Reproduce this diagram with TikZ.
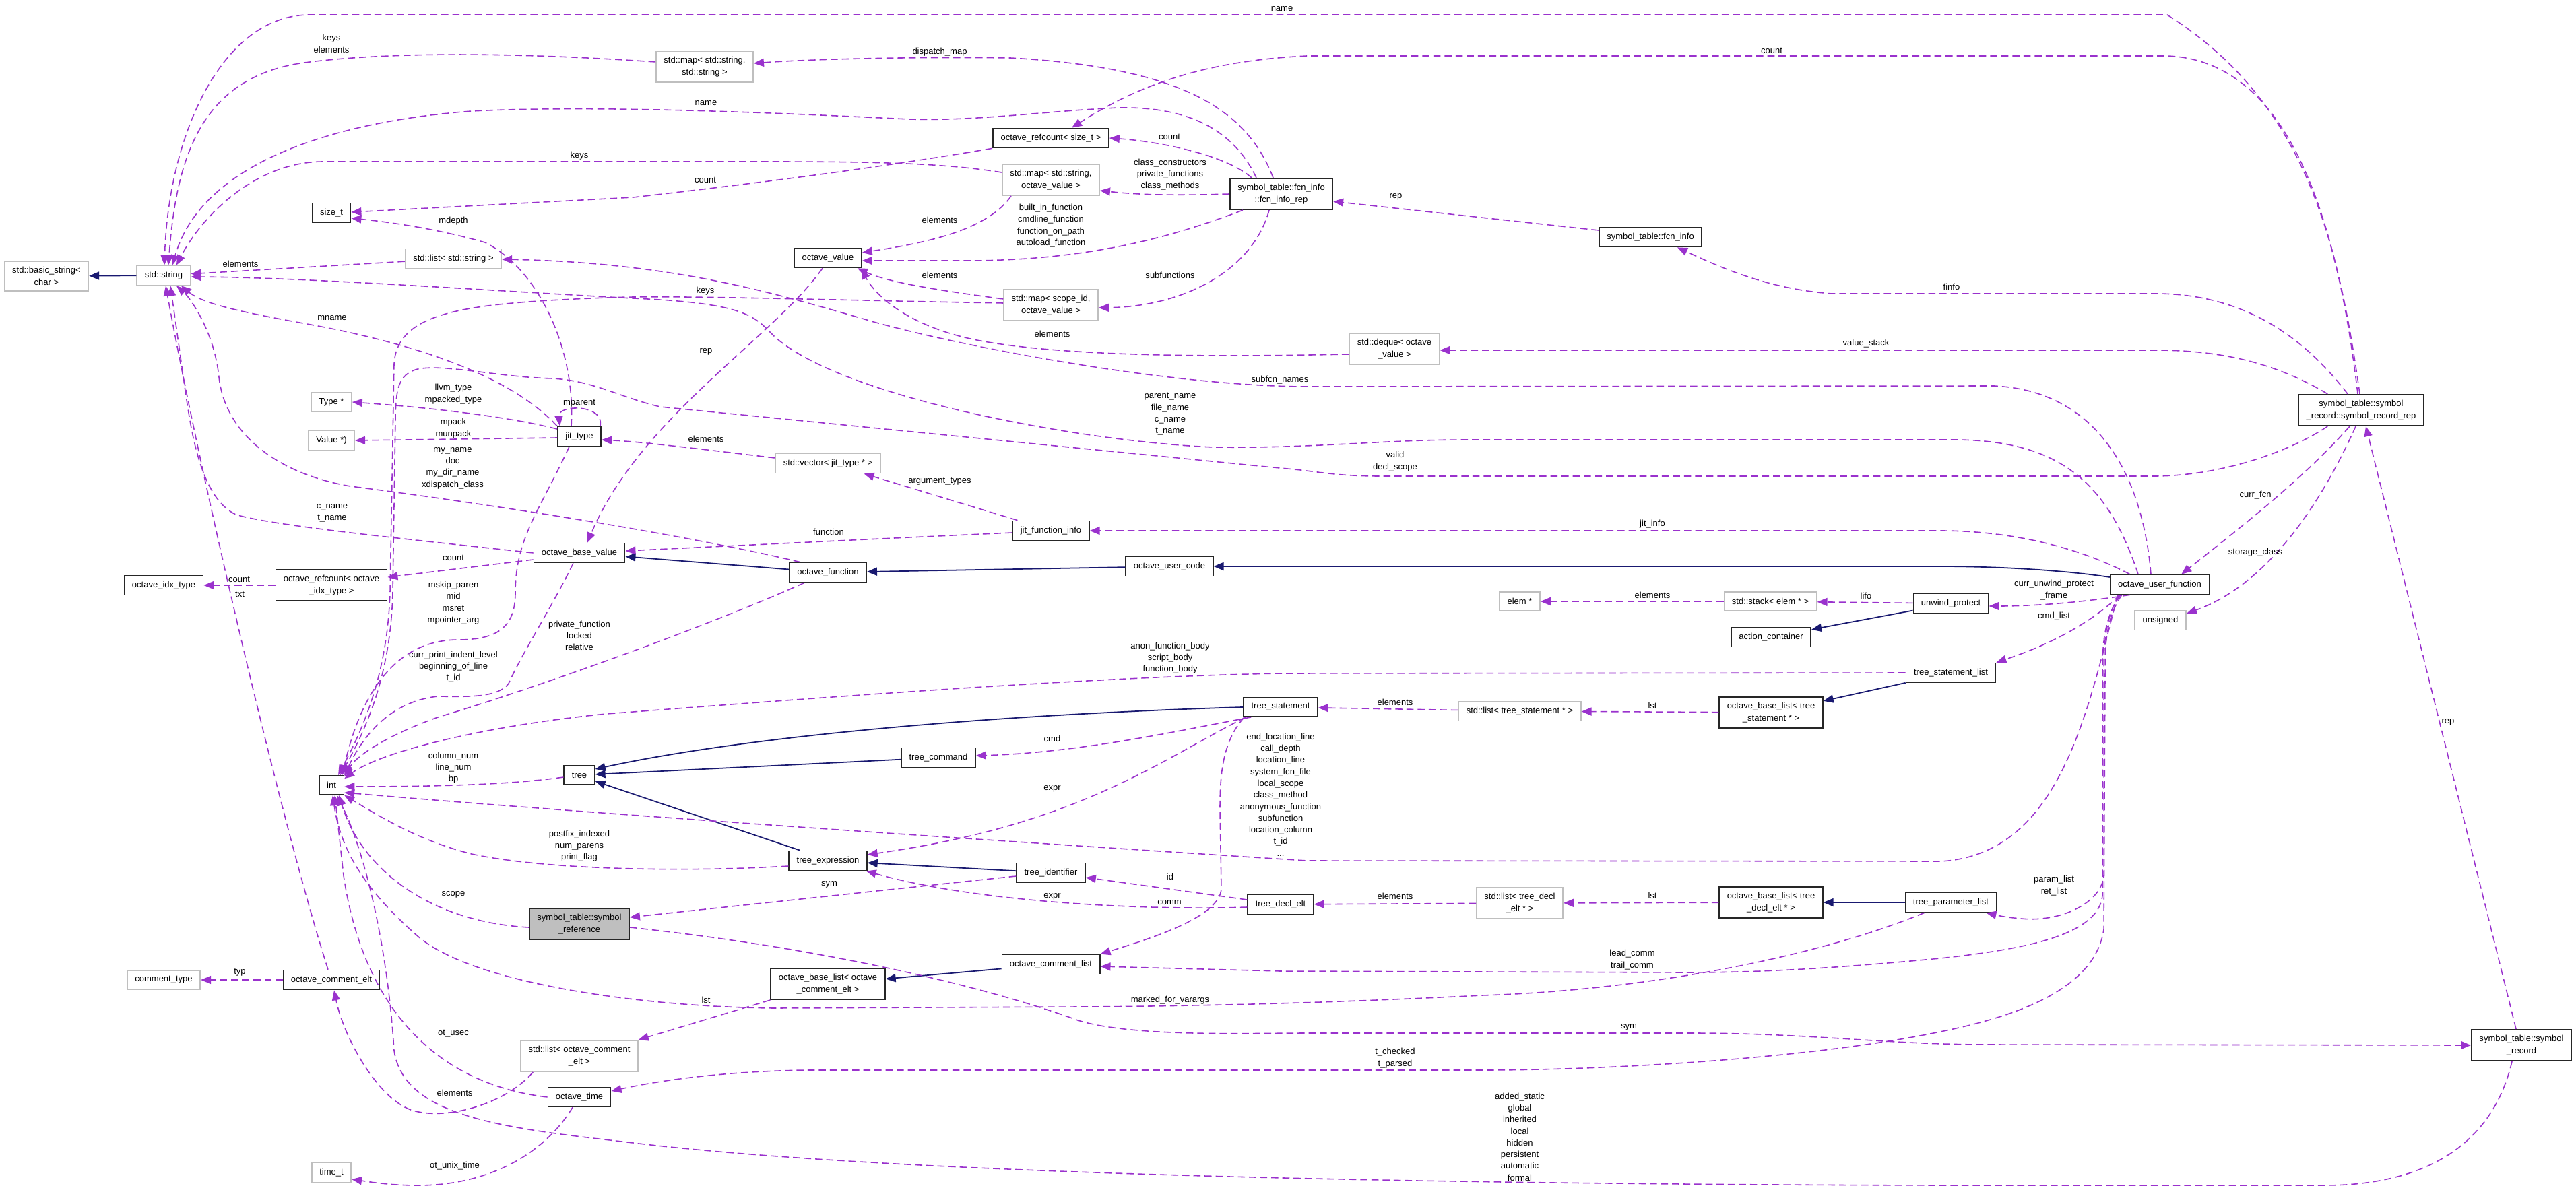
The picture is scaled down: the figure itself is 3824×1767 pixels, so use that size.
\documentclass[tikz,border=0pt]{standalone}
\usepackage{fontspec}
\setmainfont{Liberation Sans}
\usetikzlibrary{arrows.meta,calc}
\definecolor{edgepurple}{HTML}{9A32CD}
\definecolor{derivenavy}{HTML}{191970}
\definecolor{extgray}{HTML}{BFBFBF}
\begin{document}
\begin{tikzpicture}[x=0.01cm,y=-0.01cm,
  every node/.style={font=\fontsize{3.7}{4.92}\selectfont},
  cls/.style={draw=black!85,line width=0.5pt,fill=white,align=center,inner xsep=0.115cm,inner ysep=2.4pt,minimum height=0.28cm},
  ext/.style={cls,draw=extgray},
  hilite/.style={cls,fill=extgray},
  usage/.style={draw=edgepurple,line width=0.45pt,dash pattern=on 3pt off 1.7pt,-{Triangle[length=0.15cm,width=0.12cm]}},
  derive/.style={draw=derivenavy,line width=0.5pt,-{Triangle[length=0.15cm,width=0.12cm]}},
  lbl/.style={inner sep=0pt,align=center}]
  \useasboundingbox (0,0) rectangle (3824,1767);

  \node[ext] (bstr) at (69,410) {std::basic\_string<\\char >};
  \node[ext] (str) at (243,409) {std::string};
  \node[cls] (sizet) at (492,316) {size\_t};
  \node[ext] (lststr) at (673,384) {std::list< std::string >};
  \node[ext] (mapss) at (1046,99) {std::map< std::string,\\std::string >};
  \node[cls] (rcsz) at (1560,205) {octave\_refcount< size\_t >};
  \node[ext] (mapsov) at (1560,267) {std::map< std::string,\\octave\_value >};
  \node[cls] (ov) at (1229,383) {octave\_value};
  \node[ext] (mapsid) at (1560,453) {std::map< scope\_id,\\octave\_value >};
  \node[cls] (fcnrep) at (1902,288) {symbol\_table::fcn\_info\\::fcn\_info\_rep};
  \node[cls] (fcninfo) at (2450,352) {symbol\_table::fcn\_info};
  \node[ext] (deque) at (2070,518) {std::deque< octave\\\_value >};
  \node[cls] (recrep) at (3505,609) {symbol\_table::symbol\\\_record::symbol\_record\_rep};
  \node[ext] (type) at (492,597) {Type *};
  \node[ext] (value) at (492,654) {Value *)};
  \node[cls] (jit) at (860,648) {jit\_type};
  \node[ext] (vec) at (1229,688) {std::vector< jit\_type * >};
  \node[cls] (jfi) at (1560,788) {jit\_function\_info};
  \node[cls] (obv) at (860,821) {octave\_base\_value};
  \node[cls] (idx) at (243,869) {octave\_idx\_type};
  \node[cls] (rcidx) at (492,869) {octave\_refcount< octave\\\_idx\_type >};
  \node[cls] (ofn) at (1229,850) {octave\_function};
  \node[cls] (ouc) at (1736,841) {octave\_user\_code};
  \node[cls] (ouf) at (3206,868) {octave\_user\_function};
  \node[ext] (uns) at (3207,921) {unsigned};
  \node[ext] (elem) at (2256,893) {elem *};
  \node[ext] (stack) at (2628,893) {std::stack< elem * >};
  \node[cls] (unw) at (2896,896) {unwind\_protect};
  \node[cls] (act) at (2629,946) {action\_container};
  \node[cls] (tsl) at (2896,999) {tree\_statement\_list};
  \node[cls] (oblts) at (2629,1058) {octave\_base\_list< tree\\\_statement * >};
  \node[ext] (lsts) at (2256,1056) {std::list< tree\_statement * >};
  \node[cls] (ts) at (1901,1050) {tree\_statement};
  \node[cls] (tree) at (860,1151) {tree};
  \node[cls] (int) at (492,1166) {int};
  \node[cls] (tcmd) at (1393,1125) {tree\_command};
  \node[cls] (texpr) at (1229,1278) {tree\_expression};
  \node[cls] (tid) at (1560,1296) {tree\_identifier};
  \node[cls] (tde) at (1901,1343) {tree\_decl\_elt};
  \node[ext] (lsttde) at (2256,1341) {std::list< tree\_decl\\\_elt * >};
  \node[cls] (obltde) at (2629,1340) {octave\_base\_list< tree\\\_decl\_elt * >};
  \node[cls] (tpl) at (2896,1340) {tree\_parameter\_list};
  \node[hilite] (ref) at (860,1372) {symbol\_table::symbol\\\_reference};
  \node[ext] (ctype) at (243,1455) {comment\_type};
  \node[cls] (oce) at (492,1455) {octave\_comment\_elt};
  \node[cls] (ocl) at (1560,1432) {octave\_comment\_list};
  \node[cls] (oblce) at (1229,1461) {octave\_base\_list< octave\\\_comment\_elt >};
  \node[ext] (lstce) at (860,1568) {std::list< octave\_comment\\\_elt >};
  \node[cls] (otime) at (860,1629) {octave\_time};
  \node[ext] (timet) at (492,1741) {time\_t};
  \node[cls] (rec) at (3743,1552) {symbol\_table::symbol\\\_record};

  \draw[derive] (str) -- (bstr);
  \draw[derive] (ofn) -- (obv);
  \draw[derive] (ouc) -- (ofn);
  \draw[derive] ($(ouf.west)+(0,-11)$) .. controls (3060,846) and (2960,841) .. (2880,841) -- (ouc.east);
  \draw[derive] (unw) -- (act);
  \draw[derive] (tsl) -- (oblts);
  \draw[derive] (ts.west) .. controls (1450,1062) and (1100,1095) .. ($(tree.east)+(0,-9)$);
  \draw[derive] (tcmd) -- (tree);
  \draw[derive] ($(texpr.north west)+(17,0)$) -- ($(tree.east)+(0,9)$);
  \draw[derive] (tid) -- (texpr);
  \draw[derive] (ocl) -- (oblce);
  \draw[derive] (tpl) -- (obltde);

  \draw[usage] ($(recrep.north)+(-2,0)$) .. controls (3470,350) and (3420,150) .. (3217,22) -- (460,22) .. controls (330,22) and (250,200) .. ($(str.north)+(1,0)$) node[lbl] at (1903,13) {name};
  \draw[usage] ($(mapss.west)+(0,-7)$) .. controls (800,80) and (600,75) .. (460,92) .. controls (300,110) and (262,230) .. ($(str.north)+(7,0)$) node[lbl] at (492,65) {keys\\elements};
  \draw[usage] ($(fcnrep.north)+(-12,0)$) .. controls (1850,160) and (1750,100) .. (1500,86) .. controls (1350,84) and (1200,88) .. ($(mapss.east)+(0,-5)$) node[lbl] at (1395,77) {dispatch\_map};
  \draw[usage] ($(fcnrep.north)+(-37,0)$) .. controls (1830,190) and (1760,158) .. (1660,160) .. controls (1550,165) and (1450,180) .. (1350,177) .. controls (1200,170) and (900,155) .. (700,165) .. controls (500,180) and (300,240) .. ($(str.north)+(13,0)$) node[lbl] at (1048,153) {name};
  \draw[usage] ($(mapsov.west)+(0,-11)$) .. controls (1400,242) and (1300,240) .. (1131,240) -- (480,240) .. controls (380,240) and (300,320) .. ($(str.north)+(19,0)$) node[lbl] at (860,231) {keys};
  \draw[usage] (rcsz.south west) .. controls (1300,250) and (1100,275) .. (940,293) -- ($(sizet.east)+(0,-1)$) node[lbl] at (1047,267) {count};
  \draw[usage] ($(jit.north)+(-12,0)$) .. controls (855,520) and (800,400) .. (720,360) .. controls (650,340) and (580,330) .. ($(sizet.east)+(0,8)$) node[lbl] at (673,328) {mdepth};
  \draw[usage] (lststr) -- (str) node[lbl] at (357,392) {elements};
  \draw[usage] ($(ouf.north)+(-13,0)$) .. controls (3180,700) and (3110,580) .. (2960,573) -- (1940,574) .. controls (1750,574) and (1450,520) .. (1297,478) .. controls (1150,435) and (1000,390) .. ($(lststr.east)+(0,1)$) node[lbl] at (1900,564) {subfcn\_names};
  \draw[usage] ($(ouf.north)+(-32,0)$) .. controls (3130,720) and (3060,653) .. (2900,653) -- (2175,653) .. controls (2050,653) and (1950,666) .. (1800,664) .. controls (1600,655) and (1250,590) .. (1150,500) .. controls (1120,470) and (1110,450) .. (940,443) .. controls (700,430) and (450,412) .. ($(str.east)+(0,2)$) node[lbl] at (1737,615) {parent\_name\\file\_name\\c\_name\\t\_name};
  \draw[usage] ($(mapsid.west)+(0,-3)$) .. controls (1200,445) and (1000,438) .. (900,442) .. controls (700,450) and (590,460) .. (585,540) -- (579,880) .. controls (575,1000) and (540,1080) .. ($(int.north)+(10,0)$) node[lbl] at (1047,432) {keys};
  \draw[usage] ($(recrep.south west)+(44,0)$) .. controls (3400,670) and (3300,706) .. (3200,707) -- (2050,707) .. controls (1980,707) and (1960,700) .. (1900,695) -- (980,604) .. controls (920,590) and (880,565) .. (820,562) .. controls (740,560) and (660,540) .. (620,548) .. controls (590,556) and (588,580) .. (587,620) -- (583,880) .. controls (580,1000) and (545,1080) .. ($(int.north)+(13,0)$) node[lbl] at (2071,685) {valid\\decl\_scope};
  \draw[usage] (jit.north west) .. controls (760,560) and (620,510) .. (450,480) .. controls (350,462) and (300,450) .. ($(str.south)+(26,0)$) node[lbl] at (493,472) {mname};
  \draw[usage] ($(ofn.north west)+(17,0)$) .. controls (1000,790) and (700,745) .. (520,722) .. controls (420,705) and (335,650) .. (325,560) .. controls (318,490) and (280,440) .. ($(str.south)+(19,0)$) node[lbl] at (672,695) {my\_name\\doc\\my\_dir\_name\\xdispatch\_class};
  \draw[usage] (obv.west) .. controls (600,800) and (400,780) .. (350,764) .. controls (300,740) and (285,650) .. (275,580) -- ($(str.south)+(10,0)$) node[lbl] at (493,762) {c\_name\\t\_name};
  \draw[usage] ($(oce.north)+(-5,0)$) .. controls (420,1230) and (300,720) .. ($(str.south)+(3,0)$) node[lbl] at (356,882) {txt};
  \draw[usage] (rcidx) -- (idx) node[lbl] at (355,860) {count};
  \draw[usage] ($(obv.west)+(0,10)$) -- ($(rcidx.east)+(0,-12)$) node[lbl] at (673,828) {count};
  \draw[usage] ($(ov.south)+(-8,0)$) .. controls (1150,500) and (950,620) .. ($(obv.north)+(12,0)$) node[lbl] at (1048,522) {rep};
  \draw[usage] ($(deque.west)+(0,8)$) .. controls (1800,530) and (1580,530) .. (1450,505) .. controls (1350,485) and (1300,440) .. ($(ov.south east)+(-1,1)$) node[lbl] at (1562,496) {elements};
  \draw[usage] ($(recrep.north)+(-5,0)$) .. controls (3470,330) and (3400,90) .. (3217,83) -- (1940,83) .. controls (1800,90) and (1700,120) .. ($(rcsz.north)+(31,0)$) node[lbl] at (2630,75) {count};
  \draw[usage] ($(fcnrep.north)+(-44,0)$) .. controls (1820,230) and (1720,210) .. (rcsz.east) node[lbl] at (1736,203) {count};
  \draw[usage] (fcnrep.west) .. controls (1720,291) and (1680,288) .. ($(mapsov.east)+(0,16)$) node[lbl] at (1737,259) {class\_constructors\\private\_functions\\class\_methods};
  \draw[usage] ($(mapsov.south west)+(14,0)$) .. controls (1470,335) and (1400,357) .. ($(ov.east)+(0,-8)$) node[lbl] at (1395,327) {elements};
  \draw[usage] ($(fcnrep.south west)+(20,0)$) .. controls (1720,360) and (1600,385) .. (1450,387) -- ($(ov.east)+(0,4)$) node[lbl] at (1560,335) {built\_in\_function\\cmdline\_function\\function\_on\_path\\autoload\_function};
  \draw[usage] ($(mapsid.west)+(0,-9)$) .. controls (1400,432) and (1320,420) .. ($(ov.south east)+(-7,0)$) node[lbl] at (1395,409) {elements};
  \draw[usage] ($(fcnrep.south)+(-18,0)$) .. controls (1860,400) and (1760,455) .. ($(mapsid.east)+(0,4)$) node[lbl] at (1737,409) {subfunctions};
  \draw[usage] ($(fcninfo.west)+(0,-10)$) -- ($(fcnrep.east)+(0,11)$) node[lbl] at (2072,292) {rep};
  \draw[usage] ($(recrep.north)+(-20,0)$) .. controls (3420,500) and (3330,436) .. (3200,436) -- (2720,436) .. controls (2630,430) and (2560,400) .. ($(fcninfo.south)+(40,0)$) node[lbl] at (2897,426) {finfo};
  \draw[usage] ($(recrep.north west)+(44,0)$) .. controls (3380,540) and (3300,520) .. (3200,520) -- ($(deque.east)+(0,2)$) node[lbl] at (2770,510) {value\_stack};
  \draw[usage] ($(ouf.north west)+(30,0)$) .. controls (3080,810) and (2980,788) .. (2880,788) -- (jfi.east) node[lbl] at (2453,778) {jit\_info};
  \draw[usage] ($(jfi.north west)+(8,0)$) -- ($(vec.south east)+(-25,0)$) node[lbl] at (1395,715) {argument\_types};
  \draw[usage] ($(jfi.west)+(0,3)$) .. controls (1300,800) and (1100,810) .. ($(obv.east)+(0,-3)$) node[lbl] at (1230,790) {function};
  \draw[usage] ($(vec.west)+(0,-8)$) .. controls (1000,662) and (950,656) .. ($(jit.east)+(0,5)$) node[lbl] at (1048,652) {elements};
  \draw[usage] ($(jit.west)+(0,-11)$) .. controls (760,620) and (650,606) .. (type.east) node[lbl] at (673,585) {llvm\_type\\mpacked\_type};
  \draw[usage] ($(jit.west)+(0,2)$) -- (value.east) node[lbl] at (673,636) {mpack\\munpack};
  \draw[usage] ($(jit.north east)+(-2,0)$) .. controls (898,600) and (828,600) .. ($(jit.north west)+(4,0)$) node[lbl] at (860,599) {mparent};
  \draw[usage] ($(jit.south)+(-15,0)$) .. controls (800,760) and (765,800) .. (765,880) .. controls (765,930) and (740,950) .. (680,950) .. controls (600,950) and (540,1010) .. ($(int.north)+(16,0)$) node[lbl] at (673,895) {mskip\_paren\\mid\\msret\\mpointer\_arg};
  \draw[usage] ($(obv.south)+(-9,0)$) .. controls (820,900) and (775,970) .. (755,1015) .. controls (740,1035) and (700,1035) .. (650,1034) .. controls (590,1040) and (545,1080) .. (int.north east) node[lbl] at (673,990) {curr\_print\_indent\_level\\beginning\_of\_line\\t\_id};
  \draw[usage] ($(ofn.south west)+(23,0)$) .. controls (1050,930) and (800,1020) .. (650,1065) .. controls (580,1090) and (530,1120) .. ($(int.north east)+(0,2)$) node[lbl] at (860,944) {private\_function\\locked\\relative};
  \draw[usage] ($(tree.west)+(0,3)$) .. controls (760,1165) and (650,1168) .. ($(int.east)+(0,2)$) node[lbl] at (673,1140) {column\_num\\line\_num\\bp};
  \draw[usage] (tsl.west) -- (1900,1000) .. controls (1600,1005) and (1100,1045) .. (900,1060) .. controls (700,1080) and (560,1120) .. ($(int.north east)+(0,5)$) node[lbl] at (1737,977) {anon\_function\_body\\script\_body\\function\_body};
  \draw[usage] ($(ouf.south west)+(12,0)$) .. controls (3100,1050) and (3060,1270) .. (2880,1279) -- (1940,1278) .. controls (1500,1250) and (900,1210) .. ($(int.south east)+(0,-4)$) node[lbl] at (1901,1180) {end\_location\_line\\call\_depth\\location\_line\\system\_fcn\_file\\local\_scope\\class\_method\\anonymous\_function\\subfunction\\location\_column\\t\_id\\...};
  \draw[usage] ($(texpr.west)+(0,8)$) .. controls (1000,1296) and (800,1290) .. (700,1268) .. controls (620,1248) and (560,1210) .. (int.south east) node[lbl] at (860,1256) {postfix\_indexed\\num\_parens\\print\_flag};
  \draw[usage] ($(ref.west)+(0,5)$) .. controls (650,1370) and (540,1300) .. ($(int.south)+(11,0)$) node[lbl] at (673,1328) {scope};
  \draw[usage] (otime.west) .. controls (650,1610) and (540,1500) .. (510,1300) -- ($(int.south)+(5,0)$) node[lbl] at (673,1535) {ot\_usec};
  \draw[usage] ($(rec.south)+(-14,0)$) .. controls (3700,1700) and (3600,1760) .. (3450,1760) -- (2880,1760) .. controls (2000,1758) and (1300,1740) .. (940,1697) .. controls (750,1675) and (600,1660) .. (585,1560) .. controls (575,1400) and (540,1260) .. ($(int.south)+(8,0)$) node[lbl] at (2256,1688) {added\_static\\global\\inherited\\local\\hidden\\persistent\\automatic\\formal};
  \draw[usage] ($(lstce.south west)+(19,0)$) .. controls (750,1640) and (660,1665) .. (610,1648) .. controls (560,1630) and (510,1540) .. ($(oce.south)+(4,0)$) node[lbl] at (675,1623) {elements};
  \draw[usage] (oce) -- (ctype) node[lbl] at (356,1444) {typ};
  \draw[usage] ($(otime.south)+(-10,0)$) .. controls (810,1710) and (730,1760) .. (620,1760) .. controls (580,1760) and (550,1755) .. ($(timet.east)+(0,10)$) node[lbl] at (675,1731) {ot\_unix\_time};
  \draw[usage] (oblce.south west) -- (lstce.north east) node[lbl] at (1048,1485) {lst};
  \draw[usage] ($(tid.west)+(0,5)$) -- ($(ref.east)+(0,-10)$) node[lbl] at (1231,1313) {sym};
  \draw[usage] ($(ref.east)+(0,5)$) .. controls (1200,1405) and (1450,1460) .. (1600,1515) .. controls (1680,1540) and (1850,1534) .. (1940,1534) -- (2520,1534) .. controls (2700,1535) and (2800,1551) .. (2950,1551) -- (rec.west) node[lbl] at (2418,1525) {sym};
  \draw[usage] ($(ouf.south west)+(16,0)$) .. controls (3122,920) and (3121,960) .. (3121,1000) -- (3121,1330) .. controls (3115,1390) and (3000,1410) .. (2880,1423) .. controls (2700,1440) and (2600,1444) .. (2500,1444) -- (1900,1442) -- ($(ocl.east)+(0,3)$) node[lbl] at (2423,1425) {lead\_comm\\trail\_comm};
  \draw[usage] ($(ouf.south west)+(14,0)$) .. controls (3124,920) and (3123,960) .. (3123,1000) -- (3123,1300) .. controls (3120,1340) and (3060,1370) .. (3000,1364) .. controls (2975,1362) and (2960,1358) .. ($(tpl.south east)+(-16,0)$) node[lbl] at (3049,1315) {param\_list\\ret\_list};
  \draw[usage] ($(ouf.south west)+(18,0)$) .. controls (3125,920) and (3125,960) .. (3125,1000) -- (3123,1380) .. controls (3110,1470) and (2990,1510) .. (2880,1532) .. controls (2700,1570) and (2400,1589) .. (2200,1589) -- (1200,1589) .. controls (1100,1590) and (1000,1600) .. ($(otime.east)+(0,-9)$) node[lbl] at (2071,1571) {t\_checked\\t\_parsed};
  \draw[usage] ($(tpl.south west)+(29,0)$) .. controls (2700,1420) and (2450,1470) .. (2200,1478) .. controls (2000,1488) and (1800,1494) .. (1600,1495) -- (1150,1497) .. controls (950,1495) and (700,1460) .. (620,1390) .. controls (540,1320) and (505,1260) .. ($(int.south)+(2,0)$) node[lbl] at (1737,1485) {marked\_for\_varargs};
  \draw[usage] ($(ts.south west)+(2,0)$) .. controls (1815,1100) and (1811,1150) .. (1811,1200) -- (1813,1320) .. controls (1810,1360) and (1720,1390) .. (ocl.north east) node[lbl] at (1736,1340) {comm};
  \draw[usage] ($(ts.south west)+(12,0)$) .. controls (1750,1085) and (1600,1118) .. ($(tcmd.east)+(0,-3)$) node[lbl] at (1562,1097) {cmd};
  \draw[usage] ($(ts.south west)+(4,0)$) .. controls (1720,1130) and (1600,1225) .. ($(texpr.east)+(0,-9)$) node[lbl] at (1562,1171) {expr};
  \draw[usage] ($(tde.west)+(0,-7)$) -- ($(tid.east)+(0,7)$) node[lbl] at (1737,1302) {id};
  \draw[usage] ($(tde.west)+(0,4)$) .. controls (1700,1352) and (1450,1340) .. ($(texpr.south east)+(-2,0)$) node[lbl] at (1562,1331) {expr};
  \draw[usage] (lsttde) -- (tde) node[lbl] at (2071,1331) {elements};
  \draw[usage] (obltde) -- (lsttde) node[lbl] at (2453,1330) {lst};
  \draw[usage] (lsts) -- (ts) node[lbl] at (2071,1043) {elements};
  \draw[usage] (oblts) -- (lsts) node[lbl] at (2453,1048) {lst};
  \draw[usage] (stack) -- (elem) node[lbl] at (2453,884) {elements};
  \draw[usage] (unw) -- (stack) node[lbl] at (2770,885) {lifo};
  \draw[usage] ($(ouf.south west)+(30,0)$) .. controls (3120,890) and (3040,900) .. ($(unw.east)+(0,4)$) node[lbl] at (3049,876) {curr\_unwind\_protect\\\_frame};
  \draw[usage] ($(ouf.south west)+(15,0)$) .. controls (3110,920) and (3050,955) .. (tsl.north east) node[lbl] at (3049,915) {cmd\_list};
  \draw[usage] ($(recrep.south)+(-17,0)$) .. controls (3420,710) and (3330,780) .. ($(ouf.north east)+(-42,0)$) node[lbl] at (3348,735) {curr\_fcn};
  \draw[usage] ($(recrep.south)+(-8,0)$) .. controls (3440,760) and (3360,870) .. ($(uns.east)+(0,-10)$) node[lbl] at (3348,820) {storage\_class};
  \draw[usage] ($(rec.north)+(-8,0)$) -- ($(recrep.south)+(7,0)$) node[lbl] at (3634,1072) {rep};
\end{tikzpicture}
\end{document}
